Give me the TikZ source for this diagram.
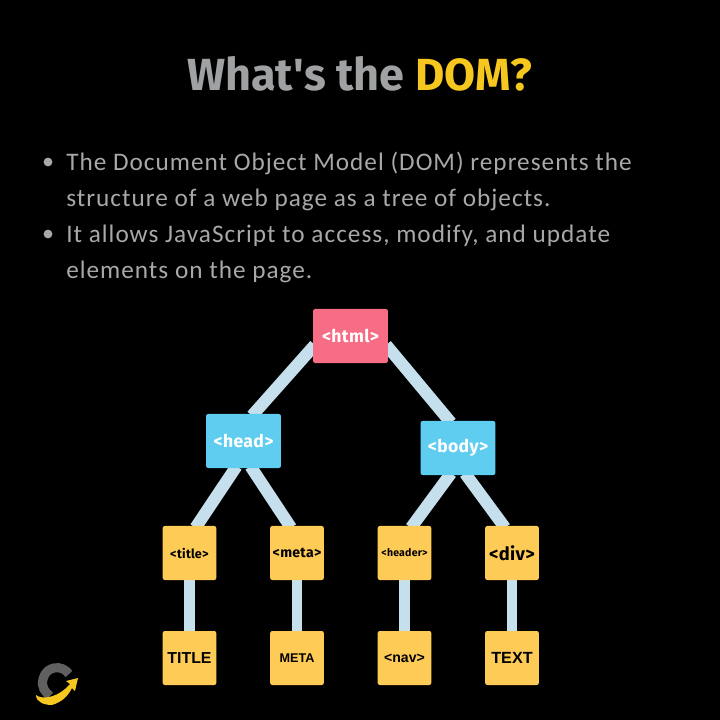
\documentclass[tikz,border=0pt]{standalone}
\usepackage{fontspec}
\setmainfont{Carlito}
\newfontfamily\titlefont{Fira Sans}
\newfontfamily\bodyfont[LetterSpace=4]{Carlito}
\newfontfamily\tagfont[LetterSpace=2]{Fira Sans}
\newfontfamily\arialfont{Liberation Sans}
\usetikzlibrary{calc, backgrounds}

\definecolor{htmlred}{HTML}{F76D85}
\definecolor{tagblue}{HTML}{5FCDEF}
\definecolor{leafyellow}{HTML}{FFCB57}
\definecolor{linkblue}{HTML}{C6DFEC}
\definecolor{titlegray}{HTML}{A0A1A3}
\definecolor{textgray}{HTML}{A8A8A8}
\definecolor{domyellow}{HTML}{F6C71E}

\tikzset{
  tagbox/.style={rounded corners=1.5pt,inner sep=0pt,font=\tagfont\bfseries},
  bigbox/.style={tagbox,minimum width=1.87cm,minimum height=1.35cm,text=white,
    font=\tagfont\bfseries\fontsize{12.5}{15}\selectfont},
  leafbox/.style={tagbox,fill=leafyellow,minimum width=1.34cm,minimum height=1.35cm,text=black},
  link/.style={linkblue,line width=7.4pt},
  slantlink/.style={link,line width=8.6pt},
  line/.style={anchor=base west,text=textgray,inner sep=0pt,
    font=\bodyfont\fontsize{17.95}{20}\selectfont},
  dot/.style={circle,fill=textgray,minimum size=0.22cm,inner sep=0pt},
}

\begin{document}
\begin{tikzpicture}[x=0.025cm,y=-0.025cm]
\node[anchor=base,inner sep=0pt,text=titlegray,font=\titlefont\bfseries\fontsize{32}{38}\selectfont] (title) at (359.5,91)
    {What\textquotesingle s the \textcolor{domyellow}{DOM?}};

\node[dot] (dotA) at (48,162) {};
\node[dot] (dotB) at (48,234) {};
\node[line] (lineA) at (66,171) {The Document Object Model (DOM) represents the};
\node[line] (lineB) at (66,207) {structure of a web page as a tree of objects.};
\node[line] (lineC) at (66,243) {It allows JavaScript to access, modify, and update};
\node[line] (lineD) at (66,279) {elements on the page.};

\node[bigbox,fill=htmlred] (html) at (350.5,336) {<html>};
\node[bigbox,fill=tagblue] (head) at (243.5,441) {<head>};
\node[bigbox,fill=tagblue] (body) at (458,448) {<body>};

\node[leafbox,font=\tagfont\bfseries\fontsize{9}{10}\selectfont] (tagtitle) at (189.5,553) {<title>};
\node[leafbox,font=\tagfont\bfseries\fontsize{10}{12}\selectfont] (meta) at (297,553) {<meta>};
\node[leafbox,font=\tagfont\bfseries\fontsize{7.5}{9}\selectfont] (header) at (404.5,553) {<header>};
\node[leafbox,font=\tagfont\bfseries\fontsize{13}{15}\selectfont] (div) at (512,553) {<div>};

\node[leafbox,font=\arialfont\bfseries\fontsize{11.3}{12}\selectfont] (leaftitle) at (189.5,658) {TITLE};
\node[leafbox,font=\arialfont\bfseries\fontsize{9}{11}\selectfont] (leafmeta) at (297,658) {META};
\node[leafbox,font=\arialfont\bfseries\fontsize{10}{12}\selectfont] (nav) at (404.5,658) {<nav>};
\node[leafbox,font=\arialfont\bfseries\fontsize{11.5}{13}\selectfont] (text) at (512,658) {TEXT};

\begin{scope}[on background layer]
\fill[black] (0,0) rectangle (720,720);
\draw[slantlink] ($(html.west)+(2,9)$) -- ($(head.north)+(8.5,2)$);
\draw[slantlink] ($(html.east)+(-2,9)$) -- ($(body.north)+(-7,2)$);
\draw[slantlink] ($(head.south)+(-7,-2)$) -- ($(tagtitle.north)+(6,2)$);
\draw[slantlink] ($(head.south)+(7,-2)$) -- ($(meta.north)+(-6,2)$);
\draw[slantlink] ($(body.south)+(-7,-2)$) -- ($(header.north)+(6.5,2)$);
\draw[slantlink] ($(body.south)+(7,-2)$) -- ($(div.north)+(-7,2)$);
\draw[link] (tagtitle) -- (leaftitle);
\draw[link] (meta) -- (leafmeta);
\draw[link] (header) -- (nav);
\draw[link] (div) -- (text);
\end{scope}

% logo
\draw[line width=6.5pt,gray!75!black] (69,674) .. controls (62,664) and (46,666) .. (43,679)
    .. controls (41,687) and (45,692) .. (50,696);
\fill[domyellow] (36,695) .. controls (42,700) and (58,698) .. (70,684) -- (66,681) -- (78,678)
    -- (75,691) -- (72,688) .. controls (68,696) and (62,702) .. (52,705)
    .. controls (44,705) and (36,702) .. (36,695) -- cycle;
\end{tikzpicture}
\end{document}
